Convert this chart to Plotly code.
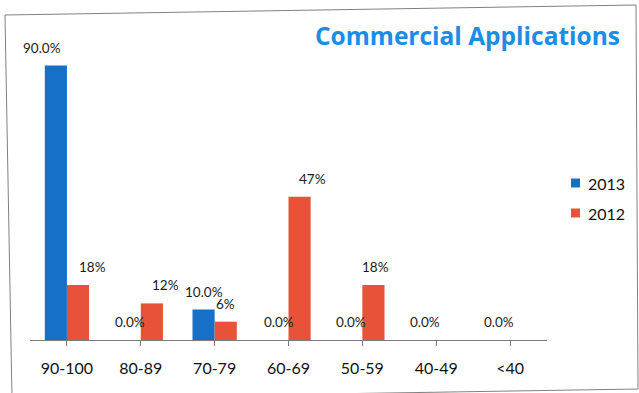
import plotly.graph_objects as go

# Score bands and share of commercial applications per year (%)
categories = ["90-100", "80-89", "70-79", "60-69", "50-59", "40-49", "<40"]
series_names = ["2013", "2012"]
share_2013 = [90.0, 0.0, 10.0, 0.0, 0.0, 0.0, 0.0]
share_2012 = [18, 12, 6, 47, 18, None, None]

BLUE = "rgb(22,112,200)"
RED = "rgb(232,82,56)"
FONT = "Lato"

W, H = 639, 393
L, R, T, B = 30, 92, 35, 53
PW, PH = W - L - R, H - T - B


def px_x(x):
    return (x - L) / PW


def px_y(y):
    return (H - B - y) / PH


fig = go.Figure()
fig.add_trace(go.Bar(x=list(range(len(categories))), y=share_2013, name=series_names[0],
                     marker=dict(color=BLUE, line=dict(width=0))))
fig.add_trace(go.Bar(x=list(range(len(categories))), y=share_2012, name=series_names[1],
                     marker=dict(color=RED, line=dict(width=0))))

# value labels sit above each bar; small horizontal nudges keep them clear
nudge_2013 = [-14, 0, 0, 2, 0, 0, 0]
nudge_2012 = [14, 14, 0, 13, 2, 0, 0]
label_font = dict(family=FONT, size=13.5, color="#1a1a1a")
annotations = []
for i, v in enumerate(share_2013):
    if v is None:
        continue
    annotations.append(dict(x=i - 0.15, y=v, xref="x", yref="y", text=f"{v:.1f}%",
                            showarrow=False, yanchor="bottom", yshift=8, xshift=nudge_2013[i],
                            font=label_font))
for i, v in enumerate(share_2012):
    if v is None:
        continue
    annotations.append(dict(x=i + 0.15, y=v, xref="x", yref="y", text=f"{v:.0f}%",
                            showarrow=False, yanchor="bottom", yshift=8, xshift=nudge_2012[i],
                            font=label_font))

annotations.append(dict(x=px_x(467), y=px_y(35), xref="paper", yref="paper",
                        text="<b>Commercial Applications</b>", showarrow=False,
                        xanchor="center", yanchor="middle",
                        font=dict(family="Open Sans", size=24.5, color="rgb(28,140,228)")))

shapes = []
# legend: small square swatch followed by the series name
for k, (name, color) in enumerate(zip(series_names, [BLUE, RED])):
    cy = 183 + 30 * k
    shapes.append(dict(type="rect", xref="paper", yref="paper",
                       x0=px_x(571), x1=px_x(580), y0=px_y(cy - 4.5), y1=px_y(cy + 4.5),
                       fillcolor=color, line=dict(width=0)))
    annotations.append(dict(x=px_x(586), y=px_y(cy), xref="paper", yref="paper",
                            text=name, showarrow=False, xanchor="left", yanchor="middle",
                            font=dict(family=FONT, size=16, color="#111")))

# scanned page frame around the chart
corners = [(5, 15), (636, 5), (638, 389), (12, 399)]
path = "M " + " L ".join(f"{px_x(x)},{px_y(y)}" for x, y in corners) + " Z"
shapes.append(dict(type="path", path=path, xref="paper", yref="paper",
                   line=dict(color="#808080", width=1)))

fig.update_layout(
    width=W, height=H,
    margin=dict(l=L, r=R, t=T, b=B),
    paper_bgcolor="white", plot_bgcolor="white",
    barmode="group", bargap=0.4, bargroupgap=0,
    showlegend=False,
    annotations=annotations,
    shapes=shapes,
    xaxis=dict(tickmode="array", tickvals=list(range(len(categories))), ticktext=categories,
               range=[-0.5, len(categories) - 0.5],
               showline=True, linecolor="#7a7a7a", linewidth=1,
               ticks="outside", ticklen=5, tickcolor="#7a7a7a", tickson="boundaries",
               ticklabelstandoff=9,
               tickfont=dict(family=FONT, size=16, color="#111"),
               showgrid=False, zeroline=False, fixedrange=True),
    yaxis=dict(range=[0, 100], visible=False, fixedrange=True),
)

fig.write_html("out.html")
